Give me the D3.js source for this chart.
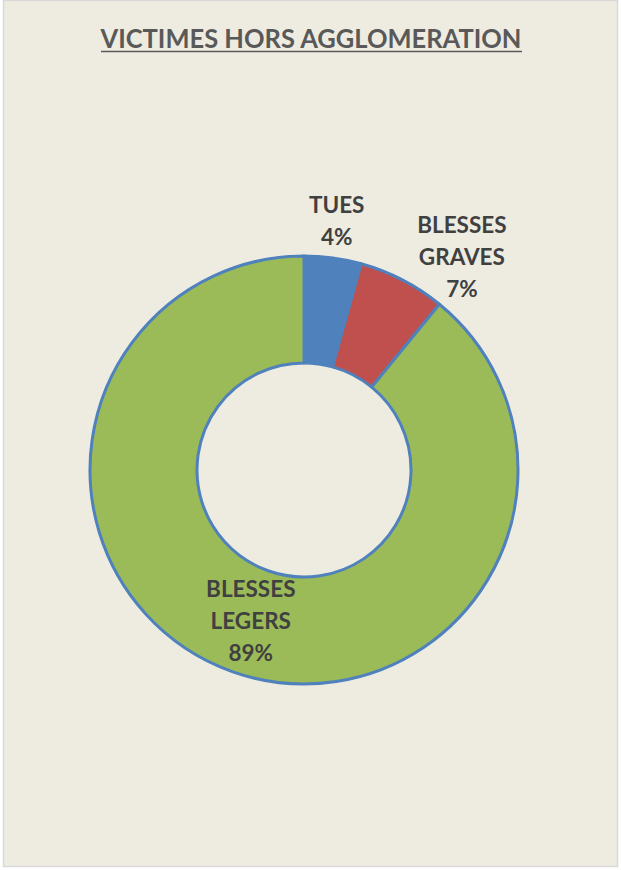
<!DOCTYPE html>
<html>
<head>
<meta charset="utf-8">
<script src="https://cdn.jsdelivr.net/npm/d3@7"></script>
<style>
  html, body { margin: 0; padding: 0; background: #fff; }
  svg { display: block; }
</style>
</head>
<body>
<div id="chart"></div>
<script>
// donnees du graphique
const categories = ["TUES", "BLESSES GRAVES", "BLESSES LEGERS"];
const values = [4.3, 6.6, 89.1];
const colors = ["#4F81BD", "#C0504D", "#9BBB59"];

const W = 621, H = 870;
const cx = 304, cy = 470;
const rOuter = 214, rInner = 107;

const svg = d3.select("#chart")
    .append("svg")
    .attr("width", W)
    .attr("height", H);

// fond + cadre
svg.append("rect")
    .attr("x", 3.5).attr("y", 0.5)
    .attr("width", W - 7).attr("height", H - 4)
    .attr("fill", "#EEECE1")
    .attr("stroke", "#D9D9D9")
    .attr("stroke-width", 1.5);

// titre
svg.append("text")
    .attr("x", 311)
    .attr("y", 48)
    .attr("text-anchor", "middle")
    .attr("font-family", "Lato, 'Open Sans', sans-serif")
    .attr("font-weight", "bold")
    .attr("font-size", 26)
    .attr("fill", "#595959")
    .attr("textLength", 421)
    .attr("lengthAdjust", "spacingAndGlyphs")
    .text("VICTIMES HORS AGGLOMERATION");

svg.append("line")
    .attr("x1", 101).attr("x2", 522)
    .attr("y1", 51.5).attr("y2", 51.5)
    .attr("stroke", "#595959")
    .attr("stroke-width", 1.5);

const pie = d3.pie().sort(null).value(d => d)(values);
const total = d3.sum(values);

const arc = d3.arc().innerRadius(rInner).outerRadius(rOuter);

const g = svg.append("g").attr("transform", `translate(${cx},${cy})`);

g.selectAll("path")
    .data(pie)
    .join("path")
    .attr("d", arc)
    .attr("fill", (d, i) => colors[i])
    .attr("stroke", "#4F81BD")
    .attr("stroke-width", 3)
    .attr("stroke-linejoin", "round");

// etiquettes : rayon et decalage angulaire par part
const labelRadius = [243, 259, 168];
const labelShift = [0, 0.178, -0.02];

g.selectAll("text.lbl")
    .data(pie)
    .join("text")
    .attr("class", "lbl")
    .attr("font-family", "Lato, 'Open Sans', sans-serif")
    .attr("font-weight", "bold")
    .attr("font-size", 22.5)
    .attr("fill", "#404040")
    .attr("text-anchor", "middle")
    .each(function (d, i) {
        const a = (d.startAngle + d.endAngle) / 2 + labelShift[i];
        const x = Math.sin(a) * labelRadius[i];
        const y = -Math.cos(a) * labelRadius[i];
        const lines = categories[i].split(" ");
        lines.push(Math.round(d.value / total * 100) + "%");
        const step = 32;
        const y0 = y - (lines.length - 1) * step / 2;
        d3.select(this).selectAll("tspan")
            .data(lines)
            .join("tspan")
            .attr("x", x)
            .attr("y", (t, k) => y0 + k * step)
            .text(t => t);
    });
</script>
</body>
</html>
